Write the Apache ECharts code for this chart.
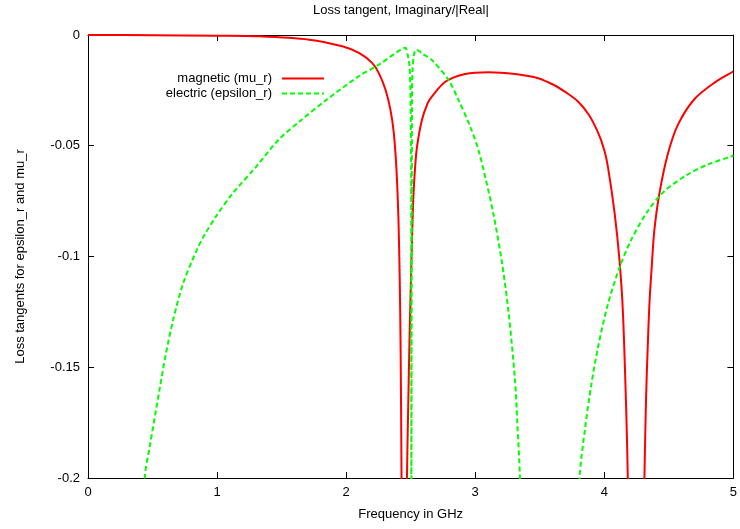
<!DOCTYPE html>
<html>
  <head>
    <meta charset="utf-8" />
    <title>Loss tangent</title>
    <script src="https://cdn.jsdelivr.net/npm/echarts@6/dist/echarts.min.js"></script>
    <style>
      html, body { margin: 0; padding: 0; background: #fff; }
      #main { width: 740px; height: 529px; }
    </style>
  </head>
  <body>
    <div id="main"></div>
    <script type="text/javascript">
      // values (below -0.2 means "off the bottom", gets clipped)
      var freqMagnetic = [0, 0.5, 1.0, 1.327, 1.713, 1.97, 2.099, 2.201, 2.253, 2.305, 2.343, 2.369, 2.39, 2.405, 2.415, 2.422, 2.429, 2.432,
                          2.467, 2.471, 2.48, 2.49, 2.5, 2.51, 2.52, 2.535, 2.55, 2.587, 2.63, 2.664, 2.768, 2.922, 3.102, 3.308, 3.488,
                          3.617, 3.7, 3.796, 3.88, 3.951, 4.0, 4.028, 4.079, 4.118, 4.144, 4.169, 4.182, 4.19,
                          4.30, 4.311, 4.323, 4.335, 4.349, 4.368, 4.388, 4.427, 4.491, 4.568, 4.697, 4.851, 4.992, 5.0];
      var lossMagnetic = [0, -0.0001, -0.0003, -0.0006, -0.0021, -0.0051, -0.0081, -0.0126, -0.0172, -0.0247, -0.0337, -0.0442, -0.061, -0.083, -0.11, -0.142, -0.2, -0.24,
                          -0.24, -0.2, -0.17, -0.14, -0.115, -0.093, -0.074, -0.059, -0.05, -0.0384, -0.031, -0.0278, -0.0211, -0.0176, -0.0168, -0.0176, -0.0195,
                          -0.0228, -0.0258, -0.03, -0.036, -0.044, -0.052, -0.0595, -0.08, -0.102, -0.125, -0.168, -0.2, -0.24,
                          -0.24, -0.1994, -0.165, -0.143, -0.122, -0.104, -0.088, -0.0715, -0.054, -0.0408, -0.029, -0.0216, -0.0167, -0.0165];

      var freqElectric = [0.43, 0.44, 0.478, 0.556, 0.6, 0.658, 0.735, 0.839, 0.9, 0.993, 1.121, 1.302, 1.481, 1.65, 1.842, 2.099, 2.253,
                          2.446, 2.459, 2.477, 2.49, 2.498, 2.504, 2.505, 2.507, 2.51, 2.515, 2.536, 2.549, 2.587,
                          2.664, 2.793, 2.87, 2.961, 3.025, 3.089, 3.14, 3.204, 3.256, 3.308, 3.326, 3.346, 3.36,
                          3.79, 3.809, 3.85, 3.899, 3.951, 4.028, 4.118, 4.208, 4.336, 4.465, 4.645, 4.799, 4.979, 5.0];
      var lossElectric = [-0.24, -0.1999, -0.1859, -0.1595, -0.145, -0.129, -0.1125, -0.0975, -0.0905, -0.0818, -0.0715, -0.0595, -0.047, -0.0385, -0.0295, -0.0186, -0.0134,
                          -0.0059, -0.0058, -0.009, -0.0135, -0.0248, -0.0745, -0.24, -0.24, -0.034, -0.015, -0.0068, -0.0068, -0.0083,
                          -0.0113, -0.0203, -0.0293, -0.0414, -0.0519, -0.067, -0.0805, -0.1016, -0.124, -0.1558, -0.175, -0.1994, -0.24,
                          -0.24, -0.1994, -0.178, -0.158, -0.141, -0.1215, -0.105, -0.0925, -0.0795, -0.0705, -0.063, -0.0585, -0.0549, -0.0543];

      var xTicks = { min: 0, max: 5, step: 1 };
      var yTicks = { min: -0.2, max: 0, step: 0.05 };

      function pairs(xs, ys) {
        var out = [];
        for (var i = 0; i < xs.length; i++) {
          out.push([xs[i], ys[i]]);
        }
        return out;
      }

      var chart = echarts.init(document.getElementById('main'));
      var font = 'Liberation Sans, Arial, sans-serif';

      // frame axis: line + inward ticks, no grid lines
      function boxAxis(extra) {
        var ax = {
          type: 'value',
          axisLine: { show: true, onZero: false, lineStyle: { color: '#000', width: 1 } },
          axisTick: { show: true, inside: true, length: 6, lineStyle: { color: '#000' } },
          splitLine: { show: false }
        };
        for (var k in extra) ax[k] = extra[k];
        return ax;
      }

      function legendFor(name, top) {
        return {
          data: [name],
          orient: 'vertical',
          align: 'right',
          right: 415,
          top: top,
          padding: 0,
          itemWidth: 42,
          itemHeight: 14,
          itemStyle: { opacity: 0 },
          textStyle: { fontFamily: font, fontSize: 13, color: '#000', padding: [0, 5, 0, 0] }
        };
      }

      var option = {
        animation: false,
        backgroundColor: '#fff',
        title: {
          text: 'Loss tangent, Imaginary/|Real|',
          left: 313,
          top: 4,
          padding: 0,
          textStyle: { fontFamily: font, fontSize: 13, fontWeight: 'normal', color: '#000' }
        },
        legend: [legendFor('magnetic (mu_r)', 72), legendFor('electric (epsilon_r)', 87)],
        grid: { left: 88, right: 4, top: 35, bottom: 51, containLabel: false },
        xAxis: [boxAxis({
          min: xTicks.min, max: xTicks.max, interval: xTicks.step,
          name: 'Frequency in GHz',
          nameLocation: 'middle',
          nameGap: 30,
          nameTextStyle: { fontFamily: font, fontSize: 13, color: '#000' },
          axisLabel: { margin: 8, fontFamily: font, fontSize: 13, color: '#000' }
        }), boxAxis({
          position: 'top',
          min: xTicks.min, max: xTicks.max, interval: xTicks.step,
          axisLabel: { show: false }
        })],
        yAxis: [boxAxis({
          min: yTicks.min, max: yTicks.max, interval: yTicks.step,
          name: 'Loss tangents for epsilon_r and mu_r',
          nameLocation: 'middle',
          nameGap: 61,
          nameTextStyle: { fontFamily: font, fontSize: 13, color: '#000' },
          axisLabel: { margin: 8, fontFamily: font, fontSize: 13, color: '#000' }
        }), boxAxis({
          position: 'right',
          min: yTicks.min, max: yTicks.max, interval: yTicks.step,
          axisLabel: { show: false }
        })],
        series: [{
          name: 'magnetic (mu_r)',
          type: 'line',
          symbol: 'none',
          smooth: 0.3,
          clip: true,
          color: '#ff0000',
          lineStyle: { color: '#ff0000', width: 2 },
          data: pairs(freqMagnetic, lossMagnetic)
        }, {
          name: 'electric (epsilon_r)',
          type: 'line',
          symbol: 'none',
          smooth: 0.3,
          clip: true,
          color: '#00ff00',
          lineStyle: { color: '#00ff00', width: 2, type: [5, 3] },
          data: pairs(freqElectric, lossElectric)
        }]
      };

      chart.setOption(option);
    </script>
  </body>
</html>
